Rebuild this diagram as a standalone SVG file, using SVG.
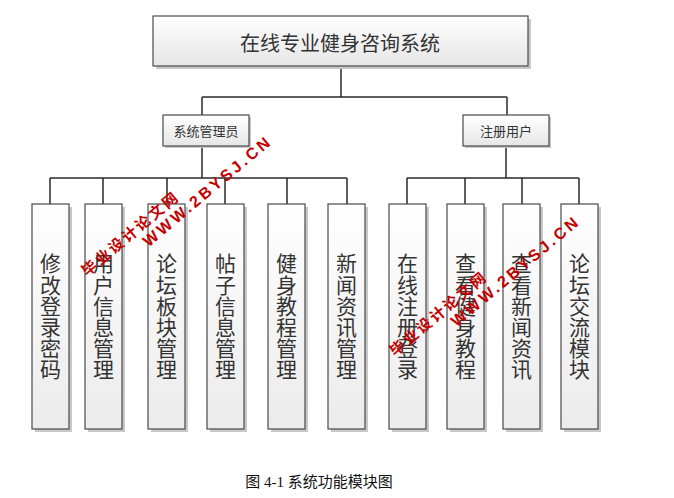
<svg xmlns="http://www.w3.org/2000/svg" width="674" height="498" viewBox="0 0 674 498">
<style>
.box{stroke:#4a4a4a;stroke-width:1.2;fill:url(#g)}
.tall{stroke:#4a4a4a;stroke-width:1.2;fill:url(#gv)}
.sh{fill:#c8c8c8}
.ln{stroke:#2a2a2a;stroke-width:1.5;fill:none}
.t{font-family:"Noto Sans CJK SC","Noto Sans CJK TC",sans-serif;fill:#333;text-anchor:middle;dominant-baseline:central}
.vt{font-family:"Noto Sans CJK SC","Noto Sans CJK TC",sans-serif;fill:#333;text-anchor:middle;font-size:21px;writing-mode:vertical-rl;letter-spacing:0.2px}
.wm{font-family:"Liberation Sans","Noto Sans CJK SC",sans-serif;font-weight:bold;fill:#c40000;font-size:15px}
</style>
<defs>
<linearGradient id="g" x1="0" y1="0" x2="0" y2="1"><stop offset="0" stop-color="#ffffff"/><stop offset="1" stop-color="#e6e6e6"/></linearGradient>
<linearGradient id="gv" x1="0" y1="0" x2="0" y2="1"><stop offset="0" stop-color="#ffffff"/><stop offset="1" stop-color="#ebebeb"/></linearGradient>
</defs>
<rect width="674" height="498" fill="#fff"/>
<g id="connectors" class="ln">
<path d="M341 66V97M202 97H507M202 97V115M507 97V115"/>
<path d="M202 146V178M50 178H347M50 178V204M103 178V204M167 178V204M225 178V204M287 178V204M347 178V204"/>
<path d="M506 146V178M407 178H579M407 178V204M465 178V204M522 178V204M579 178V204"/>
</g>
<g id="root"><rect class="sh" x="156" y="19" width="375" height="50"/><rect class="box" x="153" y="16" width="375" height="50"/><text class="t" x="340" y="42" font-size="20">在线专业健身咨询系统</text></g>
<g id="admin"><rect class="sh" x="165" y="117" width="86" height="31"/><rect class="box" x="163" y="115" width="86" height="31"/><text class="t" x="206" y="130.5" font-size="13">系统管理员</text></g>
<g id="user"><rect class="sh" x="465" y="117" width="86" height="31"/><rect class="box" x="463" y="115" width="86" height="31"/><text class="t" x="506" y="130.5" font-size="13">注册用户</text></g>
<g id="n1"><rect class="sh" x="35" y="207" width="37" height="225"/><rect class="tall" x="32" y="204" width="37" height="225"/><text class="vt" x="50.5" y="316.5">修改登录密码</text></g>
<g id="n2"><rect class="sh" x="88" y="207" width="37" height="225"/><rect class="tall" x="85" y="204" width="37" height="225"/><text class="vt" x="103.5" y="316.5">用户信息管理</text></g>
<g id="n3"><rect class="sh" x="151" y="207" width="37" height="225"/><rect class="tall" x="148" y="204" width="37" height="225"/><text class="vt" x="166.5" y="316.5">论坛板块管理</text></g>
<g id="n4"><rect class="sh" x="210" y="207" width="37" height="225"/><rect class="tall" x="207" y="204" width="37" height="225"/><text class="vt" x="225.5" y="316.5">帖子信息管理</text></g>
<g id="n5"><rect class="sh" x="271" y="207" width="37" height="225"/><rect class="tall" x="268" y="204" width="37" height="225"/><text class="vt" x="286.5" y="316.5">健身教程管理</text></g>
<g id="n6"><rect class="sh" x="331" y="207" width="37" height="225"/><rect class="tall" x="328" y="204" width="37" height="225"/><text class="vt" x="346.5" y="316.5">新闻资讯管理</text></g>
<g id="n7"><rect class="sh" x="392" y="207" width="37" height="225"/><rect class="tall" x="389" y="204" width="37" height="225"/><text class="vt" x="407.5" y="316.5">在线注册登录</text></g>
<g id="n8"><rect class="sh" x="450" y="207" width="37" height="225"/><rect class="tall" x="447" y="204" width="37" height="225"/><text class="vt" x="465.5" y="316.5">查看健身教程</text></g>
<g id="n9"><rect class="sh" x="506" y="207" width="37" height="225"/><rect class="tall" x="503" y="204" width="37" height="225"/><text class="vt" x="521.5" y="316.5">查看新闻资讯</text></g>
<g id="n10"><rect class="sh" x="564" y="207" width="37" height="225"/><rect class="tall" x="561" y="204" width="37" height="225"/><text class="vt" x="579.5" y="316.5">论坛交流模块</text></g>
<text x="319" y="487" font-family="'Liberation Serif','Noto Sans CJK SC',serif" font-size="15" fill="#111" text-anchor="middle">图 4-1 系统功能模块图</text>
<g class="wm" transform="translate(87,277) rotate(-40)"><text x="0" y="0" textLength="120">毕业设计论文网</text><text x="66" y="17" font-size="16" textLength="160">WWW.2BYSJ.CN</text></g>
<g class="wm" transform="translate(395,357) rotate(-40)"><text x="0" y="0" textLength="120">毕业设计论文网</text><text x="66" y="17" font-size="16" textLength="160">WWW.2BYSJ.CN</text></g>
</svg>
